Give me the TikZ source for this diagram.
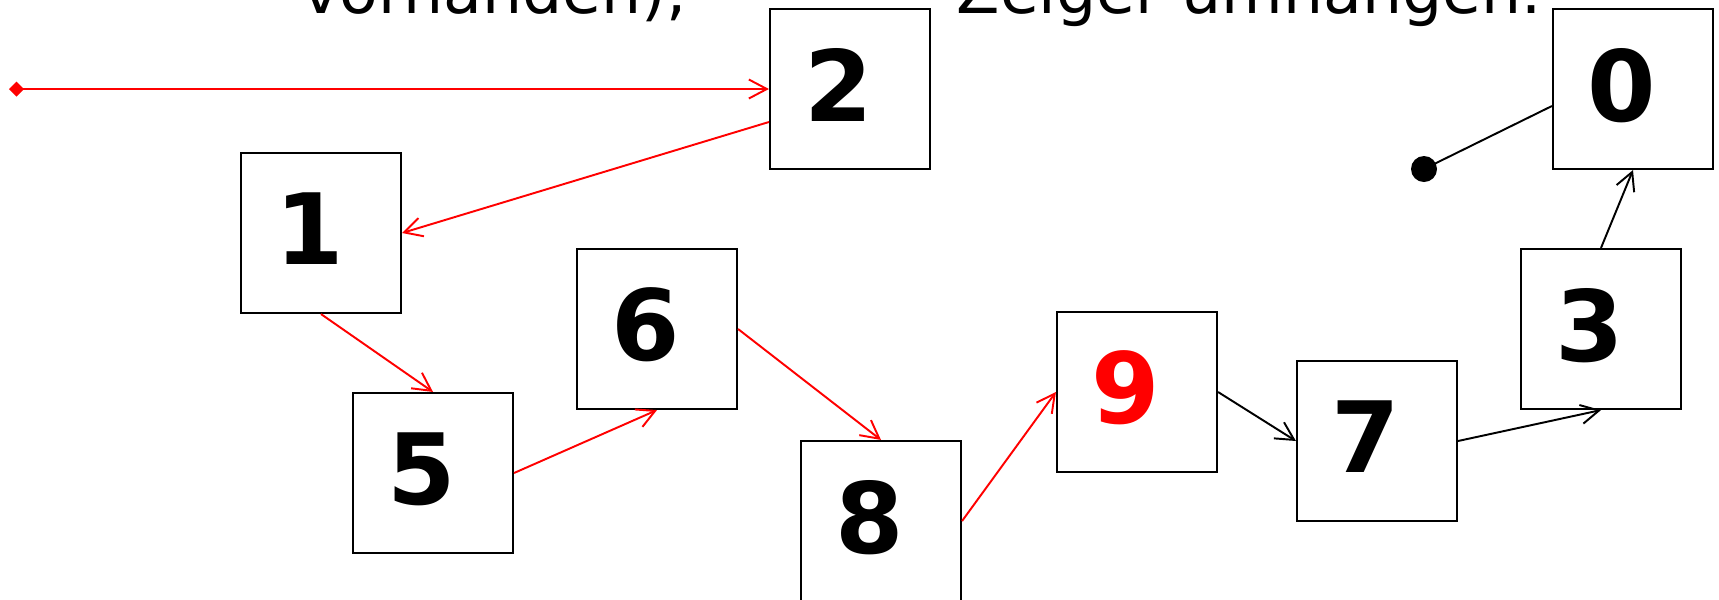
\documentclass[tikz,border=0pt]{standalone}
\usepackage{fontspec}
\setmainfont{DejaVu Sans}
\usetikzlibrary{arrows.meta}
\tikzset{>={Straight Barb[length=1.8mm,width=1.9mm]}}
\tikzset{
  elem/.style={draw=black, line width=0.6pt, fill=white, minimum size=1.6cm, inner sep=0pt,
    font=\fontsize{28}{28}\selectfont\bfseries, text depth=0.9mm,
    execute at end node=\hspace{2.2mm}},
  ptr/.style={->, red, line width=0.55pt},
  link/.style={->, black, line width=0.55pt},
  caption/.style={inner sep=0pt, font=\fontsize{18}{18}\selectfont},
}

\begin{document}
\begin{tikzpicture}
  \useasboundingbox (0,0) rectangle (17.19,5.99);
  \clip (0,0) rectangle (17.19,5.99);

  % text line running behind the list
  \node[caption, anchor=base east] (txtl) at (6.88,5.86) {vorhanden);};
  \node[caption, anchor=base west] (txtr) at (9.56,5.86) {Zeiger umhängen.};

  % list elements
  \node[elem] (n2) at (8.50,5.10) {2};
  \node[elem] (n0) at (16.33,5.10) {0};
  \node[elem] (n1) at (3.21,3.66) {1};
  \node[elem] (n6) at (6.57,2.70) {6};
  \node[elem] (n5) at (4.33,1.26) {5};
  \node[elem] (n8) at (8.81,0.78) {8};
  \node[elem, text=red] (n9) at (11.37,2.07) {9};
  \node[elem] (n7) at (13.77,1.58) {7};
  \node[elem] (n3) at (16.01,2.70) {3};

  \coordinate (head) at (0.09,5.10);
  \coordinate (nil) at (14.24,4.30);

  % pointers
  \draw[ptr, {Diamond[length=1.5mm,width=1.5mm]}->] (head) -- (n2.west);
  \draw[ptr] ([yshift=-3.3mm]n2.west) -- (n1.east);
  \draw[ptr] (n1.south) -- (n5.north);
  \draw[ptr] (n5.east) -- (n6.south);
  \draw[ptr] (n6.east) -- (n8.north);
  \draw[ptr] (n8.east) -- (n9.west);
  \draw[link] (n9.east) -- (n7.west);
  \draw[link] (n7.east) -- (n3.south);
  \draw[link] (n3.north) -- (n0.south);
  \draw[line width=0.55pt] ([yshift=-1.7mm]n0.west) -- (nil);
  \fill (nil) circle (1.3mm);
\end{tikzpicture}
\end{document}
